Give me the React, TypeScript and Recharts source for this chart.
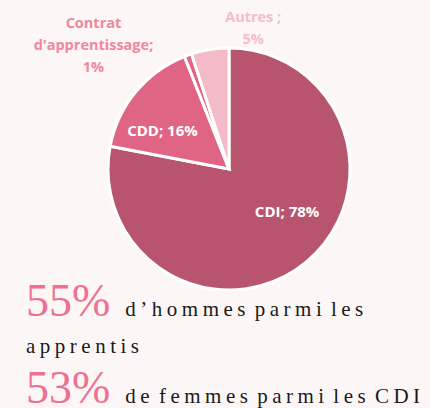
import { PieChart, Pie, Cell } from "recharts";

// répartition des contrats
const categories = ["CDI", "CDD", "Contrat d'apprentissage", "Autres"];
const values = [78, 16, 1, 5];
const labelLines = [
  ["CDI; 78%"],
  ["CDD; 16%"],
  ["Contrat", "d'apprentissage;", "1%"],
  ["Autres ;", "5%"],
];
const sliceColors = ["#b9546e", "#e06585", "#e06585", "#f4bac7"];
const labelColors = ["#ffffff", "#ffffff", "#f0879d", "#f5bdc9"];

const data = categories.map((name, i) => ({ name, value: values[i] }));

// position des étiquettes, en fraction du rayon
const labelOffsets = [
  [0.48, 0.35],
  [-0.55, -0.32],
  [-1.12, -1.03],
  [0.2, -1.17],
];

const renderLabel = (props: any) => {
  const { cx, cy, outerRadius, index } = props;
  const [fx, fy] = labelOffsets[index];
  const x = cx + fx * outerRadius;
  const y = cy + fy * outerRadius;
  const lines = labelLines[index];
  const lh = 22;
  const y0 = y - ((lines.length - 1) * lh) / 2;
  return (
    <text
      x={x}
      y={y0}
      textAnchor="middle"
      dominantBaseline="central"
      fill={labelColors[index]}
      fontFamily="'Open Sans', sans-serif"
      fontWeight={700}
      fontSize={index < 2 ? 15 : 14.5}
    >
      {lines.map((l, k) => (
        <tspan key={k} x={x} dy={k === 0 ? 0 : lh}>
          {l}
        </tspan>
      ))}
    </text>
  );
};

const bigStyle: React.CSSProperties = {
  color: "#ee7090",
  fontSize: 46,
  letterSpacing: 0,
  wordSpacing: 0,
  marginRight: 15,
};

const lineStyle: React.CSSProperties = {
  position: "absolute",
  left: 26,
  whiteSpace: "nowrap",
  fontFamily: "'Liberation Serif', serif",
  fontSize: 21,
  letterSpacing: 4.5,
  wordSpacing: -5,
  color: "#1a1a1a",
};

export default function App() {
  return (
    <div
      style={{
        position: "absolute",
        left: 0,
        top: 0,
        width: 430,
        height: 408,
        background: "#fdf6f6",
        overflow: "hidden",
      }}
    >
      <PieChart width={430} height={300}>
        <Pie
          data={data}
          dataKey="value"
          nameKey="name"
          cx={224}
          cy={164}
          outerRadius={121}
          startAngle={90}
          endAngle={-270}
          stroke="#ffffff"
          strokeWidth={3}
          label={renderLabel}
          labelLine={false}
          isAnimationActive={false}
        >
          {data.map((d, i) => (
            <Cell key={d.name} fill={sliceColors[i]} />
          ))}
        </Pie>
      </PieChart>
      <div style={{ ...lineStyle, top: 276, lineHeight: "50px" }}>
        <span style={bigStyle}>55%</span>d’hommes parmi les
      </div>
      <div style={{ ...lineStyle, top: 331, lineHeight: "30px" }}>apprentis</div>
      <div style={{ ...lineStyle, top: 368, lineHeight: "40px" }}>
        <span style={bigStyle}>53%</span>de femmes parmi les CDI
      </div>
    </div>
  );
}
